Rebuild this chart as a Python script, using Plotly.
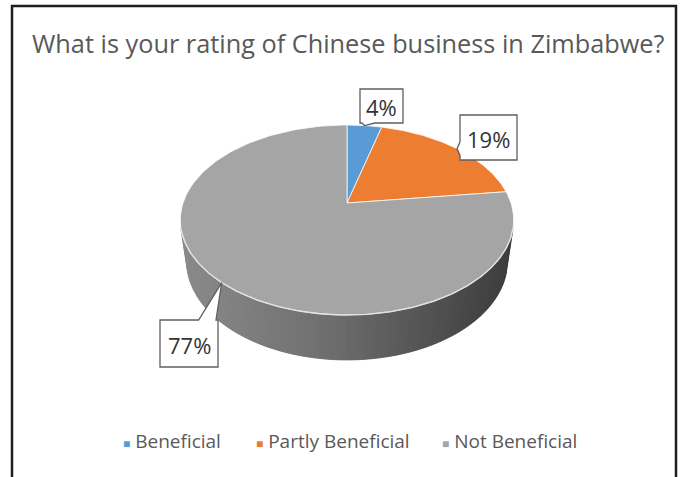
import numpy as np
import plotly.graph_objects as go

# ---- data -------------------------------------------------------------
categories = ["Beneficial", "Partly Beneficial", "Not Beneficial"]
shares = [4, 19, 77]
slice_colors = ["#5b9bd5", "#ed7d31", "#a5a5a5"]
title_text = "What is your rating of Chinese business in Zimbabwe?"

# ---- layout constants (pixel space) ----------------------------------
W, H = 680, 477
CX, CY = 347.0, 203.0          # screen position of the pie centre
ELEV = np.radians(34.1)        # camera elevation
DIST = 4.626                   # camera distance (pie radius = 1)
FOCAL = 758.7                  # projection scale
THICK = 0.316                  # pie thickness (pie radius = 1)

# callout boxes: x0, y0, x1, y1
label_boxes = [(360, 89, 403, 123), (460, 115, 517, 160), (160, 320, 218, 367)]
legend_x = [121, 254, 440]
legend_y = 441

FONT = "Open Sans"
TEXT_GREY = "#595959"

CE, SE = np.cos(ELEV), np.sin(ELEV)
CAM = np.array([0.0, -DIST * CE, DIST * SE])


def project(phi, z=0.0, r=1.0):
    """Perspective projection of a point on the pie (phi clockwise from the back)."""
    phi = np.asarray(phi, dtype=float)
    dx = r * np.sin(phi) - CAM[0]
    dy = r * np.cos(phi) - CAM[1]
    dz = z - CAM[2]
    depth = dy * CE - dz * SE
    up = dy * SE + dz * CE
    return CX + FOCAL * dx / depth, CY - FOCAL * up / depth


fig = go.Figure()

# ---- side wall (only the part facing the camera) -----------------------
phi_a = np.arccos(-1.0 / (DIST * CE))
phi_b = 2 * np.pi - phi_a
arc = np.linspace(phi_a, phi_b, 200)
tx, ty = project(arc, 0.0)
bx, by = project(arc, -THICK)
fig.add_trace(go.Scatter(
    x=np.concatenate([tx, bx[::-1]]), y=np.concatenate([ty, by[::-1]]),
    fill="toself", fillcolor="#6e6e6e", line=dict(width=0), mode="lines",
    hoverinfo="skip", showlegend=False))

n_strips = 90
edges = np.linspace(phi_a, phi_b, n_strips + 1)
xmin, xmax = project(phi_b)[0], project(phi_a)[0]
for k in range(n_strips):
    p0, p1 = edges[k], edges[k + 1]
    sub = np.linspace(p0, p1, 4)
    sx, sy = project(sub, 0.0)
    sbx, sby = project(sub, -THICK)
    t = (np.mean(sx) - xmin) / (xmax - xmin)
    g = int(np.interp(t, [0.0, 0.45, 1.0], [140, 110, 60]))
    col = f"rgb({g},{g},{g})"
    fig.add_trace(go.Scatter(
        x=np.concatenate([sx, sbx[::-1]]), y=np.concatenate([sy, sby[::-1]]),
        fill="toself", fillcolor=col, line=dict(width=0.8, color=col),
        mode="lines", hoverinfo="skip", showlegend=False))

# ---- top face slices --------------------------------------------------
fractions = np.array(shares, dtype=float) / sum(shares)
bounds = np.concatenate([[0.0], np.cumsum(fractions)]) * 2 * np.pi
for i, name in enumerate(categories):
    a = np.linspace(bounds[i], bounds[i + 1], 160)
    ax_, ay_ = project(a, 0.0)
    fig.add_trace(go.Scatter(
        x=np.concatenate([[CX], ax_, [CX]]), y=np.concatenate([[CY], ay_, [CY]]),
        fill="toself", fillcolor=slice_colors[i],
        line=dict(width=1, color="rgba(255,255,255,0.75)"),
        mode="lines", name=name, hoverinfo="name", showlegend=False))

# light rim where the top face meets the side wall
fig.add_trace(go.Scatter(x=tx, y=ty, mode="lines",
                         line=dict(width=1.4, color="rgba(225,225,225,0.95)"),
                         hoverinfo="skip", showlegend=False))

# ---- callout labels ----------------------------------------------------
shapes = []
annotations = []
for i, share in enumerate(shares):
    mid = 0.5 * (bounds[i] + bounds[i + 1])
    px, py = project(mid, 0.0)
    px, py = float(px), float(py)
    x0, y0, x1, y1 = label_boxes[i]
    if py > y1:
        side = "bottom"
    elif py < y0:
        side = "top"
    elif px < x0:
        side = "left"
    else:
        side = "right"
    if side in ("top", "bottom"):
        hw = 0.15 * (x1 - x0)
        c = min(max(px, x0 + hw + 2), x1 - hw - 2)
    else:
        hw = 0.15 * (y1 - y0)
        c = min(max(py, y0 + hw + 2), y1 - hw - 2)

    pts = [(x0, y0)]
    if side == "top":
        pts += [(c - hw, y0), (px, py), (c + hw, y0)]
    pts.append((x1, y0))
    if side == "right":
        pts += [(x1, c - hw), (px, py), (x1, c + hw)]
    pts.append((x1, y1))
    if side == "bottom":
        pts += [(c + hw, y1), (px, py), (c - hw, y1)]
    pts.append((x0, y1))
    if side == "left":
        pts += [(x0, c + hw), (px, py), (x0, c - hw)]
    path = "M " + " L ".join(f"{x:.2f},{y:.2f}" for x, y in pts) + " Z"
    shapes.append(dict(type="path", path=path, xref="x", yref="y",
                       fillcolor="white", line=dict(color="#5f5f5f", width=1.3),
                       layer="above"))
    annotations.append(dict(x=(x0 + x1) / 2, y=(y0 + y1) / 2 + 1, xref="x", yref="y",
                            text=f"{share}%", showarrow=False,
                            font=dict(family=FONT, size=22, color="#333333")))

# ---- legend -----------------------------------------------------------
for i, name in enumerate(categories):
    annotations.append(dict(
        x=legend_x[i], y=legend_y, xref="x", yref="y", xanchor="left", yanchor="middle",
        text=f"<span style='color:{slice_colors[i]};font-size:12px'>■</span> {name}",
        showarrow=False, font=dict(family=FONT, size=19, color=TEXT_GREY)))

# ---- title ------------------------------------------------------------
annotations.append(dict(x=348, y=43, xref="x", yref="y", xanchor="center", yanchor="middle",
                        text=title_text, showarrow=False,
                        font=dict(family=FONT, size=25.3, color=TEXT_GREY)))

# ---- frame ------------------------------------------------------------
shapes.append(dict(type="rect", xref="x", yref="y", x0=12, y0=6, x1=676, y1=H + 20,
                   line=dict(color="#1e1e1e", width=2.5), layer="above"))

fig.update_layout(
    width=W, height=H, margin=dict(l=0, r=0, t=0, b=0, pad=0),
    paper_bgcolor="white", plot_bgcolor="white",
    xaxis=dict(range=[0, W], visible=False, fixedrange=True),
    yaxis=dict(range=[H, 0], visible=False, fixedrange=True),
    shapes=shapes, annotations=annotations, showlegend=False,
)

fig.write_html("out.html")
